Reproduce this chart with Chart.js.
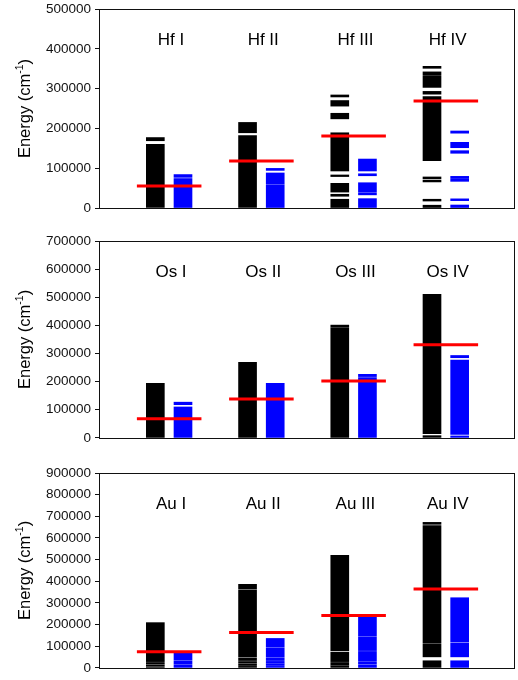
<!DOCTYPE html>
<html>
<head>
<meta charset="utf-8">
<script src="https://cdn.jsdelivr.net/npm/chart.js@4/dist/chart.umd.min.js"></script>
<style>
  body { margin: 0; background: #fff; }
  .wrap { position: relative; width: 518px; height: 680px; overflow: hidden; }
  canvas { position: absolute; left: 0; }
</style>
</head>
<body>
<div class="wrap">
  <canvas id="hf" width="518" height="229" style="top:-4px"></canvas>
  <canvas id="os" width="518" height="225" style="top:225px"></canvas>
  <canvas id="au" width="518" height="230" style="top:450px"></canvas>
</div>
<script>
// level bands [from, to] in cm-1, one list per ion stage (I..IV)
const hfLabels = ['Hf I', 'Hf II', 'Hf III', 'Hf IV']
const hfBlack = [
  [[0, 160000], [169000, 177000]],
  [[0, 182000], [189000, 215000]],
  [[0, 22000], [29500, 34500], [40000, 62000], [79000, 83000], [93000, 189000], [224000, 238000], [256000, 270000], [279000, 284000]],
  [[0, 7000], [17500, 22000], [65500, 69500], [73000, 78000], [119000, 280000], [286000, 293000], [303000, 331000], [333000, 342000], [351000, 356000]]
]
const hfBlue = [
  [[0, 74000], [77000, 84000]],
  [[0, 58500], [60500, 88000], [94500, 99500]],
  [[0, 23500], [33000, 37500], [39500, 63500], [81000, 86000], [93000, 123000]],
  [[0, 7500], [18500, 23000], [67000, 72000], [74000, 79500], [137500, 144000], [151500, 165000], [188000, 193500]]
]
const hfLimits = [55000, 118000, 181000, 269000]

const osLabels = ['Os I', 'Os II', 'Os III', 'Os IV']
const osBlack = [
  [[0, 194000]],
  [[0, 269000]],
  [[0, 392000], [395000, 401000]],
  [[0, 8000], [15000, 510000]]
]
const osBlue = [
  [[0, 110000], [118000, 127000]],
  [[0, 194000]],
  [[0, 214000], [218000, 226000]],
  [[0, 7000], [12000, 277000], [285000, 293000]]
]
const osLimits = [68000, 138000, 202000, 331000]

const auLabels = ['Au I', 'Au II', 'Au III', 'Au IV']
const auBlack = [
  [[0, 3000], [7000, 13000], [17000, 25000], [29000, 209000]],
  [[0, 7000], [11000, 17500], [21500, 29500], [34000, 44500], [49000, 359000], [364000, 386000]],
  [[0, 10000], [13000, 25000], [29000, 73000], [79000, 520000]],
  [[0, 33000], [51000, 112000], [117000, 657000], [663000, 672000]]
]
const auBlue = [
  [[0, 15000], [19000, 33000], [37000, 68000]],
  [[0, 7000], [11000, 18000], [21000, 30000], [34000, 45000], [49000, 93000], [97000, 136000]],
  [[0, 13000], [17000, 26000], [30000, 76000], [80000, 144000], [148000, 244000]],
  [[0, 33000], [51000, 114000], [119000, 324000]]
]
const auLimits = [74000, 163000, 242000, 364000]

const hfMax = 500000
const osMax = 700000
const auMax = 900000
const yStep = 100000

const FONT = '"Liberation Sans", Arial, sans-serif'

function bandPoints(columns, offset) {
  return columns.flatMap((bands, i) => bands.map(b => ({ x: i + offset, y: b })))
}

function limitPoints(limits) {
  return limits.flatMap((v, i) => [
    { x: i + 0.4, y: v },
    { x: i + 1.1, y: v },
    { x: i + 1.2, y: null }
  ])
}

const panelPlugin = {
  id: 'panel',
  afterDraw(chart) {
    const { ctx, chartArea: a } = chart
    const xs = chart.scales.x
    ctx.save()

    // box around the plot
    ctx.strokeStyle = '#111'
    ctx.lineWidth = 1
    ctx.strokeRect(Math.round(a.left) - 0.5, Math.round(a.top) + 0.5,
      Math.round(a.right - a.left), Math.round(a.bottom - a.top))

    // ion names
    ctx.fillStyle = '#000'
    ctx.font = '17px ' + FONT
    ctx.textAlign = 'center'
    ctx.textBaseline = 'middle'
    chart.options.plugins.panel.names.forEach((name, i) => {
      ctx.fillText(name, xs.getPixelForValue(i + 0.77), a.top + 31)
    })

    // y title with superscript
    const big = '16.5px ' + FONT
    const small = '10.5px ' + FONT
    ctx.font = big
    const w1 = ctx.measureText('Energy (cm').width
    const w3 = ctx.measureText(')').width
    ctx.font = small
    const w2 = ctx.measureText('-1').width
    const total = w1 + w2 + w3
    ctx.translate(25, (a.top + a.bottom) / 2)
    ctx.rotate(-Math.PI / 2)
    ctx.textAlign = 'left'
    ctx.textBaseline = 'middle'
    ctx.font = big
    ctx.fillText('Energy (cm', -total / 2, 0)
    ctx.font = small
    ctx.fillText('-1', -total / 2 + w1, -5)
    ctx.font = big
    ctx.fillText(')', -total / 2 + w1 + w2, 0)
    ctx.restore()
  }
}

function makePanel(id, names, black, blue, limits, yMax, padTop, padBottom) {
  new Chart(document.getElementById(id), {
    type: 'bar',
    data: {
      datasets: [
        {
          type: 'line',
          data: limitPoints(limits),
          borderColor: '#ff0000',
          borderWidth: 3,
          pointRadius: 0,
          spanGaps: false,
          order: 0
        },
        {
          data: bandPoints(black, 0.6),
          backgroundColor: '#000000',
          barThickness: 18,
          grouped: false,
          order: 1
        },
        {
          data: bandPoints(blue, 0.9),
          backgroundColor: '#0000ff',
          barThickness: 18,
          grouped: false,
          order: 1
        }
      ]
    },
    options: {
      responsive: false,
      animation: false,
      layout: { padding: { left: 0, right: 3, top: padTop, bottom: padBottom } },
      plugins: {
        legend: { display: false },
        tooltip: { enabled: false },
        panel: { names: names }
      },
      scales: {
        x: {
          type: 'linear',
          min: 0,
          max: 4.5,
          offset: false,
          display: false
        },
        y: {
          min: 0,
          max: yMax,
          afterFit: s => { s.width = 100 },
          border: { display: false },
          grid: { drawOnChartArea: false, drawTicks: true, tickLength: 5, color: '#111' },
          ticks: {
            stepSize: yStep,
            padding: 4,
            color: '#111',
            font: { family: FONT, size: 13.5 },
            callback: v => String(v)
          }
        }
      }
    },
    plugins: [panelPlugin]
  })
}

makePanel('hf', hfLabels, hfBlack, hfBlue, hfLimits, hfMax, 13, 17)
makePanel('os', osLabels, osBlack, osBlue, osLimits, osMax, 16, 10)
makePanel('au', auLabels, auBlack, auBlue, auLimits, auMax, 23, 8)
</script>
</body>
</html>
